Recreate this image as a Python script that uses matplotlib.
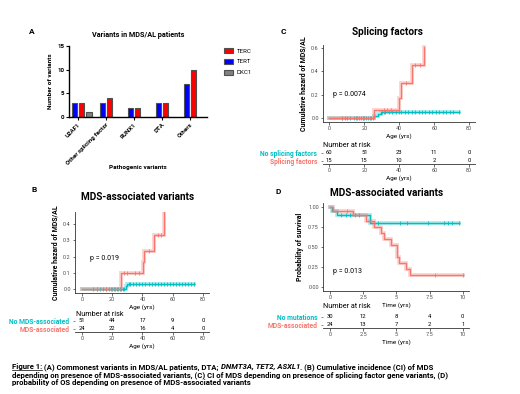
import numpy as np
import matplotlib
matplotlib.use("Agg")
import matplotlib.pyplot as plt
from matplotlib.patches import Patch

W, H = 520, 394
plt.rcParams['font.family'] = ['Roboto', 'DejaVu Sans']

# ---------------- data ----------------
# Panel A
a_categories = ["U2AF1", "Other splicing factor", "RUNX1", "DTA", "Others"]
a_tert = [3, 3, 2, 3, 7]
a_terc = [3, 4, 2, 3, 10]
a_dkc1 = [1, 0, 0, 0, 0]
a_yticks = [0, 5, 10, 15]

# Panel B (cumulative hazard, MDS-associated variants)
b_mds_t = [0, 25.7, 40.4, 41.2, 47.7, 54.3]
b_mds_h = [0, 0.097, 0.165, 0.235, 0.33, 0.474]
b_no_t = [0, 29.0, 30.0, 74.0]
b_no_h = [0, 0.02, 0.033, 0.033]
b_no_cens = [7, 10, 12, 14, 16, 18, 19, 20, 21, 22, 23, 24, 25, 26, 27, 28,
             31, 32, 34, 36, 38, 40, 42, 44, 46, 48, 50, 52, 54, 56, 58, 60,
             62, 64, 66, 68, 70, 72, 74]
b_mds_cens = [10, 16, 28, 30, 35, 38, 44, 50, 52]
b_risk_no = [51, 44, 17, 9, 0]
b_risk_mds = [24, 22, 16, 4, 0]
age_ticks = [0, 20, 40, 60, 80]

# Panel C (cumulative hazard, splicing factors)
c_sf_t = [0, 25.6, 39.8, 41.0, 47.2, 53.9]
c_sf_h = [0, 0.075, 0.176, 0.297, 0.453, 0.607]
c_no_t = [0, 25.6, 27.8, 29.5, 74.0]
c_no_h = [0, 0.02, 0.038, 0.055, 0.055]
c_no_cens = [7, 9, 10, 12, 14, 15, 16, 17, 18, 19, 20, 21, 22, 23, 24, 25,
             30, 31, 32, 34, 36, 38, 40, 41, 43, 45, 47, 49, 51, 53, 55, 57,
             59, 61, 63, 65, 67, 69, 71, 74]
c_sf_cens = [7, 19, 31, 33, 35, 44, 49, 52]
c_risk_no = [60, 51, 23, 11, 0]
c_risk_sf = [15, 15, 10, 2, 0]

# Panel D (overall survival, MDS-associated variants)
d_no_t = [0, 0.18, 0.55, 3.0, 9.75]
d_no_s = [1, 0.946, 0.896, 0.804, 0.804]
d_mds_t = [0, 0.25, 1.7, 2.7, 3.35, 3.85, 4.07, 4.57, 5.08, 5.2, 5.7, 6.05, 10]
d_mds_s = [1, 0.95, 0.896, 0.82, 0.75, 0.675, 0.60, 0.53, 0.375, 0.30, 0.225, 0.15, 0.15]
d_no_cens = [0.8, 1.2, 1.5, 1.9, 2.2, 3.6, 5.3, 5.8, 7.4, 8.6, 8.9, 9.2, 9.75]
d_mds_cens = [1.25, 7.9, 10]
d_risk_no = [30, 12, 8, 4, 0]
d_risk_mds = [24, 13, 7, 2, 1]
time_ticks = [0, 2.5, 5, 7.5, 10]
time_labels = ["0", "2.5", "5", "7.5", "10"]

TEAL = "#00BFC4"
SALMON = "#F8766D"

fig = plt.figure(figsize=(W / 100, H / 100), dpi=100)


def R(x0, y0, x1, y1):
    return [x0 / W, 1 - y1 / H, (x1 - x0) / W, (y1 - y0) / H]


def ftext(x, y, s, **kw):
    return fig.text(x / W, 1 - y / H, s, **kw)


def step_at(ts, vs, x):
    idx = np.searchsorted(ts, x, side='right') - 1
    return np.asarray(vs)[np.clip(idx, 0, len(vs) - 1)]


# ---------------- Panel A ----------------
axA = fig.add_axes(R(69, 46, 207, 117))
xs = np.arange(len(a_categories))
bw = 0.19
kw = dict(width=bw, edgecolor="#505050", linewidth=0.8)
axA.bar(xs - 0.125, a_tert, color="#0000FF", **kw)
axA.bar(xs + 0.125, a_terc, color="#FF0000", **kw)
dk = [i for i, v in enumerate(a_dkc1) if v > 0]
axA.bar(xs[dk] + 0.40, [a_dkc1[i] for i in dk], color="#808080", **kw)
axA.set_xlim(-0.32, 4.61)
axA.set_ylim(0, 15)
axA.set_yticks(a_yticks)
axA.set_xticks(xs)
axA.set_xticklabels(a_categories, rotation=45, ha='right', rotation_mode='anchor',
                    fontsize=4.4, fontweight='bold')
for lab in axA.get_yticklabels():
    lab.set_fontsize(4.4)
    lab.set_fontweight('bold')
for s in ['top', 'right']:
    axA.spines[s].set_visible(False)
for s in ['left', 'bottom']:
    axA.spines[s].set_linewidth(1.0)
axA.tick_params(length=2, width=0.8, pad=1.5)
axA.set_ylabel("Number of variants", fontsize=4.6, fontweight='bold', labelpad=3)
ftext(138, 35, "Variants in MDS/AL patients", fontsize=5.2, fontweight='bold',
      ha='center', va='center')
ftext(138, 167, "Pathogenic variants", fontsize=4.6, fontweight='bold',
      ha='center', va='center')
handles = [Patch(facecolor="#FF0000", edgecolor="#505050", lw=0.8, label="TERC"),
           Patch(facecolor="#0000FF", edgecolor="#505050", lw=0.8, label="TERT"),
           Patch(facecolor="#808080", edgecolor="#505050", lw=0.8, label="DKC1")]
fig.legend(handles=handles, loc='upper left', bbox_to_anchor=(221 / W, 1 - 45 / H),
           frameon=False, fontsize=4.4, handlelength=1.5, handleheight=0.8,
           labelspacing=0.9, handletextpad=0.6, borderpad=0)
ftext(32, 32, "A", fontsize=6, fontweight='bold', ha='center', va='center')


# ---------------- KM style helpers ----------------
def style_gg(ax):
    for s in ['top', 'right']:
        ax.spines[s].set_visible(False)
    for s in ['left', 'bottom']:
        ax.spines[s].set_linewidth(0.6)
        ax.spines[s].set_color('#333333')
    ax.tick_params(length=1.8, width=0.5, pad=1.2, labelsize=4.0,
                   labelcolor='#4D4D4D', color='#333333')


def draw_curve(ax, ts, vs, cens, color):
    ax.step(ts, vs, where='post', color=color, lw=2.8, alpha=0.3,
            solid_joinstyle='miter')
    ax.step(ts, vs, where='post', color=color, lw=1.0)
    cy = step_at(ts, vs, np.asarray(cens))
    ax.plot(cens, cy, ls='none', marker='|', ms=2.6, mew=0.6, color=color)
    ax.plot(cens, cy, ls='none', marker='_', ms=2.0, mew=0.6, color=color)


def risk_table(rect, xlim, ticks, ticklabels, row1, row2, lab1, lab2,
               xlabel, head_xy):
    ax = fig.add_axes(R(*rect))
    ax.set_xlim(*xlim)
    ax.set_ylim(-0.1, 2.0)
    style_gg(ax)
    for x, v in zip(ticks, row1):
        ax.text(x, 1.55, str(v), fontsize=4.2, ha='center', va='center')
    for x, v in zip(ticks, row2):
        ax.text(x, 0.4, str(v), fontsize=4.2, ha='center', va='center')
    ax.set_yticks([1.55, 0.4])
    ax.set_yticklabels([lab1, lab2])
    ax.tick_params(axis='y', length=1.2, width=0.4, pad=3, color='#333333')
    for lab, col in zip(ax.get_yticklabels(), [TEAL, SALMON]):
        lab.set_color(col)
        lab.set_fontsize(4.9)
        lab.set_fontweight('bold')
    ax.set_xticks(ticks)
    ax.set_xticklabels(ticklabels)
    ax.spines['left'].set_visible(False)
    ax.set_xlabel(xlabel, fontsize=4.6, labelpad=1.5)
    ftext(head_xy[0], head_xy[1], "Number at risk", fontsize=5.2,
          ha='left', va='center')
    return ax


# ---------------- Panel B ----------------
axB = fig.add_axes(R(75, 212, 209, 293))
draw_curve(axB, b_no_t, b_no_h, b_no_cens, TEAL)
draw_curve(axB, b_mds_t, b_mds_h, b_mds_cens, SALMON)
axB.set_xlim(-4.6, 84)
axB.set_ylim(-0.0246, 0.474)
axB.set_xticks(age_ticks)
axB.set_yticks([0, 0.1, 0.2, 0.3, 0.4])
axB.set_yticklabels(["0.0", "0.1", "0.2", "0.3", "0.4"])
style_gg(axB)
axB.set_xlabel("Age (yrs)", fontsize=4.6, labelpad=1.5)
axB.set_ylabel("Cumulative hazard of MDS/AL", fontsize=5.0, fontweight='bold',
               labelpad=3)
axB.text(5, 0.19, "p = 0.019", fontsize=5.0, ha='left', va='center')
ftext(138, 197, "MDS-associated variants", fontsize=7.2, fontweight='bold',
      ha='center', va='center')
ftext(34, 190, "B", fontsize=6, fontweight='bold', ha='center', va='center')
risk_table((75, 318, 209, 332), (-4.6, 84), age_ticks, [str(t) for t in age_ticks],
           b_risk_no, b_risk_mds, "No MDS-associated", "MDS-associated",
           "Age (yrs)", (76, 314))

# ---------------- Panel C ----------------
axC = fig.add_axes(R(323, 45, 475, 122))
draw_curve(axC, c_no_t, c_no_h, c_no_cens, TEAL)
draw_curve(axC, c_sf_t, c_sf_h, c_sf_cens, SALMON)
axC.set_xlim(-3.6, 83.3)
axC.set_ylim(-0.031, 0.623)
axC.set_xticks(age_ticks)
axC.set_yticks([0, 0.2, 0.4, 0.6])
axC.set_yticklabels(["0.0", "0.2", "0.4", "0.6"])
style_gg(axC)
axC.set_xlabel("Age (yrs)", fontsize=4.6, labelpad=1.5)
axC.set_ylabel("Cumulative hazard of MDS/AL", fontsize=5.0, fontweight='bold',
               labelpad=3)
axC.text(2, 0.2, "p = 0.0074", fontsize=5.0, ha='left', va='center')
ftext(387, 32, "Splicing factors", fontsize=7.2, fontweight='bold',
      ha='center', va='center')
ftext(283, 32, "C", fontsize=6, fontweight='bold', ha='center', va='center')
risk_table((323, 150, 475, 164), (-3.6, 83.3), age_ticks, [str(t) for t in age_ticks],
           c_risk_no, c_risk_sf, "No splicing factors", "Splicing factors",
           "Age (yrs)", (323, 145))

# ---------------- Panel D ----------------
axD = fig.add_axes(R(323, 203, 469, 291))
draw_curve(axD, d_no_t, d_no_s, d_no_cens, TEAL)
draw_curve(axD, d_mds_t, d_mds_s, d_mds_cens, SALMON)
axD.set_xlim(-0.53, 10.47)
axD.set_ylim(-0.046, 1.05)
axD.set_xticks(time_ticks)
axD.set_xticklabels(time_labels)
axD.set_yticks([0, 0.25, 0.5, 0.75, 1.0])
axD.set_yticklabels(["0.00", "0.25", "0.50", "0.75", "1.00"])
style_gg(axD)
axD.set_xlabel("Time (yrs)", fontsize=4.6, labelpad=1.5)
axD.set_ylabel("Probability of survival", fontsize=5.0, fontweight='bold',
               labelpad=3)
axD.text(0.25, 0.2, "p = 0.013", fontsize=5.0, ha='left', va='center')
ftext(387, 193, "MDS-associated variants", fontsize=7.2, fontweight='bold',
      ha='center', va='center')
ftext(278, 191, "D", fontsize=6, fontweight='bold', ha='center', va='center')
risk_table((323, 314, 469, 328), (-0.53, 10.47), time_ticks, time_labels,
           d_risk_no, d_risk_mds, "No mutations", "MDS-associated",
           "Time (yrs)", (323, 307))

# ---------------- Caption ----------------
fig.canvas.draw()
renderer = fig.canvas.get_renderer()
CAP_FS = 5.6


def caption_line(y, runs):
    x = 12
    for s, style, underline in runs:
        t = ftext(x, y, s, fontsize=CAP_FS, fontweight='bold', fontstyle=style,
                  ha='left', va='baseline')
        bb = t.get_window_extent(renderer)
        if underline:
            fig.add_artist(plt.Line2D([x / W, (x + bb.width) / W],
                                      [1 - (y + 1.3) / H, 1 - (y + 1.3) / H],
                                      color='black', lw=0.5))
        x += bb.width


caption_line(369, [("Figure 1:", 'normal', True),
                   (" (A) Commonest variants in MDS/AL patients, DTA; ", 'normal', False),
                   ("DNMT3A, TET2, ASXL1", 'italic', False),
                   (". (B) Cumulative incidence (CI) of MDS", 'normal', False)])
caption_line(377, [("depending on presence of MDS-associated variants, (C) CI of MDS "
                    "depending on presence of splicing factor gene variants, (D)",
                    'normal', False)])
caption_line(385, [("probability of OS depending on presence of MDS-associated variants",
                    'normal', False)])

fig.savefig("out.png", dpi=100)
